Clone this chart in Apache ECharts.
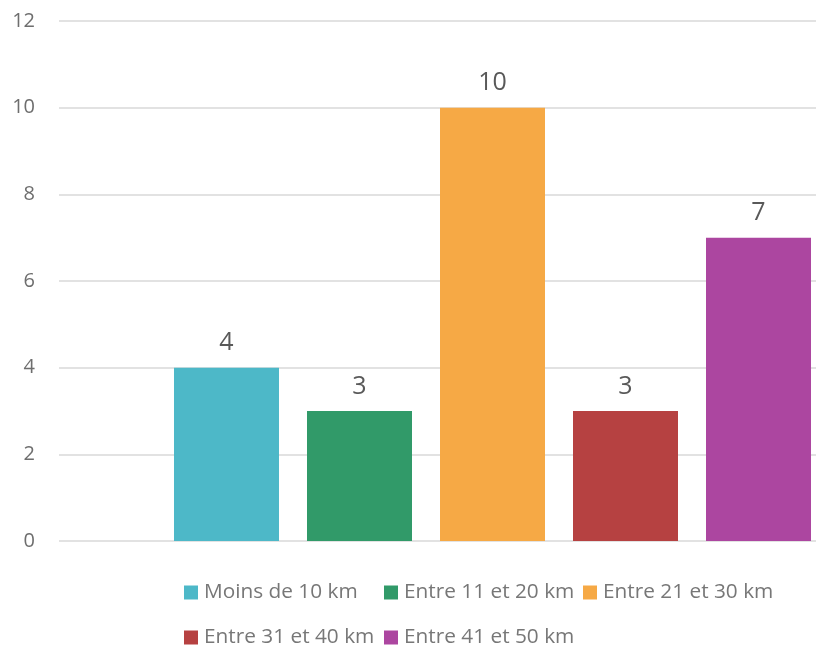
<!DOCTYPE html>
<html>
<head>
<meta charset="utf-8">
<script src="https://cdn.jsdelivr.net/npm/echarts@6/dist/echarts.min.js"></script>
<style>
html,body{margin:0;padding:0;background:#fff;overflow:hidden;width:816px;height:646px;}
#c{width:926px;height:646px;}
</style>
</head>
<body>
<div id="c"></div>
<script>
var categories = [''];
var seriesNames = ['Moins de 10 km', 'Entre 11 et 20 km', 'Entre 21 et 30 km', 'Entre 31 et 40 km', 'Entre 41 et 50 km'];
var values = [4, 3, 10, 3, 7];
var yTicks = {min: 0, max: 12, interval: 2};

var palette = ['#4db8c8', '#319a69', '#f6a945', '#b64141', '#ac46a0'];
var FONT = '"Open Sans"';

var chart = echarts.init(document.getElementById('c'), null, {renderer: 'canvas'});

var series = seriesNames.map(function (name, i) {
  return {
    name: name,
    type: 'bar',
    data: [values[i]],
    barWidth: 105,
    barGap: '26.67%',
    itemStyle: {color: palette[i]},
    label: {
      show: true,
      position: 'top',
      distance: 12,
      fontFamily: FONT,
      fontSize: 25,
      color: '#595959'
    }
  };
});

var legendPos = [
  {left: 184, top: 582},
  {left: 384, top: 582},
  {left: 583, top: 582},
  {left: 184, top: 627},
  {left: 384, top: 627}
];
var legends = seriesNames.map(function (name, i) {
  return {
    data: [name],
    left: legendPos[i].left,
    top: legendPos[i].top,
    orient: 'horizontal',
    padding: 0,
    itemWidth: 14,
    itemHeight: 14,
    itemGap: 0,
    icon: 'rect',
    selectedMode: false,
    textStyle: {fontFamily: FONT, fontSize: 20.8, color: '#777777', padding: [0, 0, 0, 1]}
  };
});

chart.setOption({
  animation: false,
  textStyle: {fontFamily: FONT},
  grid: {left: 59, top: 21, right: 0, height: 520, containLabel: false},
  legend: legends,
  xAxis: {
    type: 'category',
    data: categories,
    axisLine: {show: false},
    axisTick: {show: false},
    axisLabel: {show: false},
    splitLine: {show: false}
  },
  yAxis: {
    type: 'value',
    min: yTicks.min,
    max: yTicks.max,
    interval: yTicks.interval,
    axisLine: {show: false},
    axisTick: {show: false},
    axisLabel: {margin: 24, fontFamily: FONT, fontSize: 20, color: '#6e6e6e'},
    splitLine: {lineStyle: {color: '#d9d9d9', width: 1.5}}
  },
  series: series
});
</script>
</body>
</html>
